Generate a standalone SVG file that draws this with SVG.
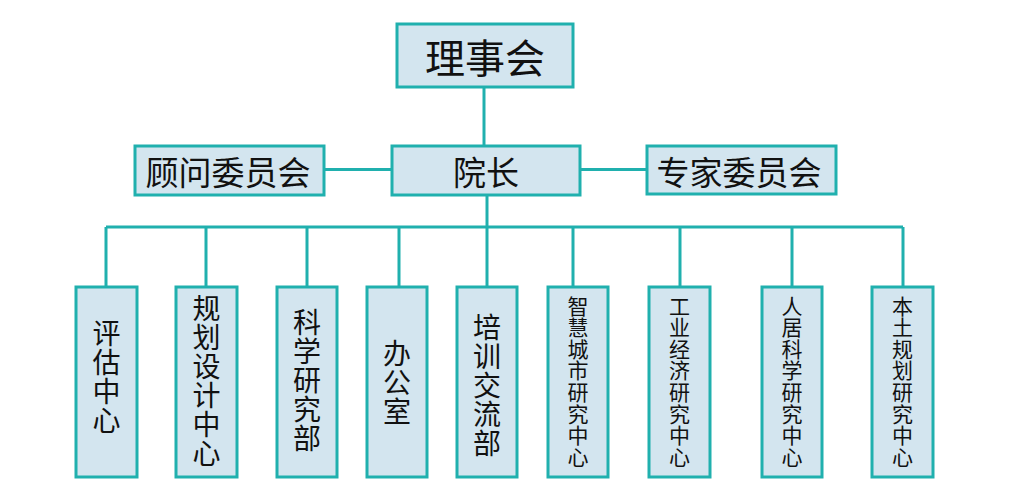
<svg xmlns="http://www.w3.org/2000/svg" width="1024" height="498" viewBox="0 0 1024 498">
<style>
.box{fill:#D3E5EF;stroke:#20B0AE;stroke-width:3}
.ln{stroke:#20B0AE;stroke-width:3;fill:none}
text{font-family:"Noto Sans CJK SC","Noto Sans",sans-serif;fill:#111;text-anchor:middle;dominant-baseline:central}
.t1{font-size:40px}
.t2{font-size:33px}
.v{writing-mode:vertical-rl}
.t3{font-size:28px;letter-spacing:1px}
.t4{font-size:21px;letter-spacing:0.6px}
</style>
<rect width="1024" height="498" fill="#fff"/>
<g id="connectors">
<path class="ln" d="M484,87V146"/>
<path class="ln" d="M324,169.5H392"/>
<path class="ln" d="M580,169.5H647"/>
<path class="ln" d="M487,195V227"/>
<path class="ln" d="M106,227H903"/>
<path class="ln" d="M106,227V287M206,227V287M307,227V287M399,227V287M487,227V287M573,227V287M680,227V287M792,227V287M903,227V287"/>
</g>
<g id="n-lishihui"><rect class="box" x="397" y="24" width="176" height="63"/><text class="t1" x="485" y="56">理事会</text></g>
<g id="n-guwen"><rect class="box" x="135" y="146" width="189" height="49"/><text class="t2" x="228" y="171">顾问委员会</text></g>
<g id="n-yuanzhang"><rect class="box" x="392" y="146" width="188" height="49"/><text class="t2" x="486" y="171">院长</text></g>
<g id="n-zhuanjia"><rect class="box" x="647" y="146" width="189" height="48"/><text class="t2" x="739" y="171">专家委员会</text></g>
<g id="n-pinggu"><rect class="box" x="76" y="287" width="61" height="190"/><text class="v t3" x="106.5" y="377">评估中心</text></g>
<g id="n-guihua"><rect class="box" x="176" y="287" width="61" height="190"/><text class="v t3" x="206.5" y="381.5">规划设计中心</text></g>
<g id="n-kexue"><rect class="box" x="277" y="287" width="60" height="190"/><text class="v t3" x="307" y="381">科学研究部</text></g>
<g id="n-bangong"><rect class="box" x="367" y="287" width="60" height="190"/><text class="v t3" x="397" y="383">办公室</text></g>
<g id="n-peixun"><rect class="box" x="457" y="287" width="60" height="190"/><text class="v t3" x="487" y="386">培训交流部</text></g>
<g id="n-zhihui"><rect class="box" x="548" y="287" width="60" height="190"/><text class="v t4" x="578" y="381.5">智慧城市研究中心</text></g>
<g id="n-gongye"><rect class="box" x="649" y="287" width="61" height="190"/><text class="v t4" x="679.5" y="381.5">工业经济研究中心</text></g>
<g id="n-renju"><rect class="box" x="762" y="287" width="60" height="190"/><text class="v t4" x="792" y="381.5">人居科学研究中心</text></g>
<g id="n-bentu"><rect class="box" x="872" y="287" width="61" height="190"/><text class="v t4" x="902.5" y="381.5">本土规划研究中心</text></g>
</svg>
